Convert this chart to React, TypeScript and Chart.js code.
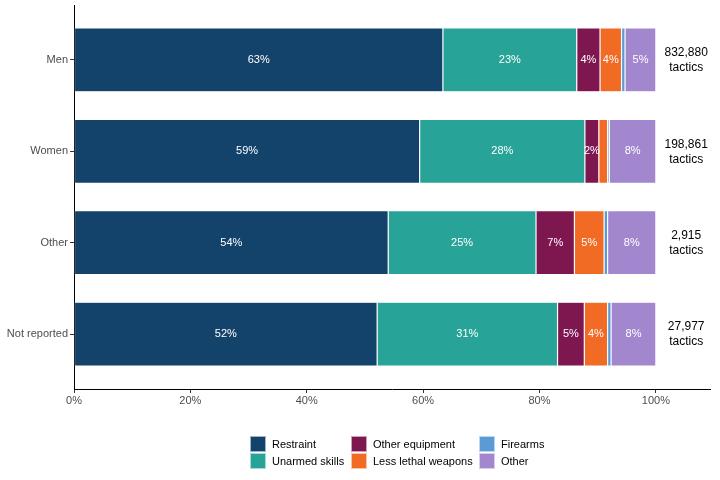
import { useEffect, useRef } from 'react';
import { Chart, registerables } from 'chart.js';

Chart.register(...registerables);

// Share of tactics used, by gender of the subject (%)
const categories = ['Men', 'Women', 'Other', 'Not reported'];
const totals = ['832,880', '198,861', '2,915', '27,977'];

const restraint = [63.4, 59.4, 54.0, 52.1];
const unarmedSkills = [23.0, 28.4, 25.4, 31.0];
const otherEquipment = [4.0, 2.4, 6.6, 4.6];
const lessLethal = [3.7, 1.5, 5.1, 4.0];
const firearms = [0.6, 0.3, 0.6, 0.6];
const otherTactics = [5.3, 8.0, 8.3, 7.7];

const xTicks = [0, 20, 40, 60, 80, 100];

const series = [
	{ label: 'Restraint', data: restraint, color: '#13426b' },
	{ label: 'Unarmed skills', data: unarmedSkills, color: '#27a397' },
	{ label: 'Other equipment', data: otherEquipment, color: '#7e1650' },
	{ label: 'Less lethal weapons', data: lessLethal, color: '#f26b25' },
	{ label: 'Firearms', data: firearms, color: '#5a9bd6' },
	{ label: 'Other', data: otherTactics, color: '#a387ce' },
];

// legend is laid out column by column, like the original
const legendColumns = [
	[0, 1],
	[2, 3],
	[4, 5],
];
const legendColumnWidths = [101, 128, 100];

const FONT = '"Liberation Sans", Arial, sans-serif';

const segmentLabels = {
	id: 'segmentLabels',
	afterDatasetsDraw(chart) {
		const ctx = chart.ctx;
		ctx.save();
		ctx.font = `11px ${FONT}`;
		ctx.fillStyle = '#ffffff';
		ctx.textAlign = 'center';
		ctx.textBaseline = 'middle';
		chart.data.datasets.forEach((ds, di) => {
			const meta = chart.getDatasetMeta(di);
			meta.data.forEach((bar, i) => {
				const v = ds.data[i].x;
				if (v < 2) return;
				const { x, y, base } = bar.getProps(['x', 'y', 'base'], true);
				ctx.fillText(Math.round(v) + '%', (x + base) / 2, y);
			});
		});
		ctx.restore();
	},
};

const totalLabels = {
	id: 'totalLabels',
	afterDatasetsDraw(chart) {
		const ctx = chart.ctx;
		const xs = chart.scales.x;
		const ys = chart.scales.y;
		ctx.save();
		ctx.font = `12px ${FONT}`;
		ctx.fillStyle = '#000000';
		ctx.textAlign = 'center';
		ctx.textBaseline = 'middle';
		const px = xs.getPixelForValue(105.2);
		totals.forEach((t, i) => {
			const py = ys.getPixelForValue(i);
			ctx.fillText(t, px, py - 7);
			ctx.fillText('tactics', px, py + 8);
		});
		ctx.restore();
	},
};

export default function App() {
	const canvasRef = useRef(null);

	useEffect(() => {
		document.body.style.margin = '0';
		const chart = new Chart(canvasRef.current, {
			type: 'bar',
			data: {
				datasets: series.map((s) => ({
					label: s.label,
					data: s.data.map((v, i) => ({ x: v, y: i })),
					backgroundColor: s.color,
					borderColor: 'rgba(255,255,255,0.55)',
					borderWidth: 0.6,
					borderSkipped: false,
					categoryPercentage: 1,
					barPercentage: 0.7,
				})),
			},
			options: {
				indexAxis: 'y',
				animation: false,
				responsive: false,
				layout: { padding: { top: 5, right: 10, bottom: 71, left: 0 } },
				plugins: {
					legend: { display: false },
					tooltip: { enabled: false },
				},
				scales: {
					x: {
						type: 'linear',
						stacked: true,
						min: 0,
						max: 109.3,
						afterBuildTicks: (scale) => {
							scale.ticks = xTicks.map((v) => ({ value: v }));
						},
						afterFit: (scale) => {
							scale.height = 20;
						},
						grid: {
							display: true,
							drawOnChartArea: false,
							drawTicks: true,
							tickLength: 4,
							color: '#333333',
						},
						border: { display: true, color: '#000000', width: 1 },
						ticks: {
							color: '#4d4d4d',
							font: { family: FONT, size: 11 },
							padding: 1,
							maxRotation: 0,
							callback: (v) => v + '%',
						},
					},
					y: {
						type: 'linear',
						stacked: true,
						reverse: true,
						offset: false,
						min: -0.6,
						max: 3.6,
						afterBuildTicks: (scale) => {
							scale.ticks = categories.map((_, i) => ({ value: i }));
						},
						afterFit: (scale) => {
							scale.width = 74;
							scale.paddingTop = 0;
							scale.paddingBottom = 0;
						},
						grid: {
							display: true,
							offset: false,
							drawOnChartArea: false,
							drawTicks: true,
							tickLength: 4,
							color: '#333333',
						},
						border: { display: true, color: '#000000', width: 1 },
						ticks: {
							color: '#4d4d4d',
							font: { family: FONT, size: 11 },
							padding: 2,
							callback: (v) => categories[v] ?? '',
						},
					},
				},
			},
			plugins: [segmentLabels, totalLabels],
		});
		return () => chart.destroy();
	}, []);

	return (
		<div style={{ position: 'relative', width: 720, height: 480, fontFamily: FONT }}>
			<canvas ref={canvasRef} width={720} height={480} style={{ display: 'block' }} />
			<div style={{ position: 'absolute', left: 250, top: 435, display: 'flex' }}>
				{legendColumns.map((col, ci) => (
					<div key={ci} style={{ width: legendColumnWidths[ci] }}>
						{col.map((idx) => (
							<div key={idx} style={{ display: 'flex', alignItems: 'center', height: 17 }}>
								<span
									style={{
										width: 16,
										height: 16,
										flex: 'none',
										background: series[idx].color,
										border: '0.5px solid rgba(255,255,255,0.6)',
										boxSizing: 'border-box',
										marginRight: 6,
									}}
								/>
								<span style={{ fontSize: 11, color: '#000', whiteSpace: 'nowrap' }}>
									{series[idx].label}
								</span>
							</div>
						))}
					</div>
				))}
			</div>
		</div>
	);
}
